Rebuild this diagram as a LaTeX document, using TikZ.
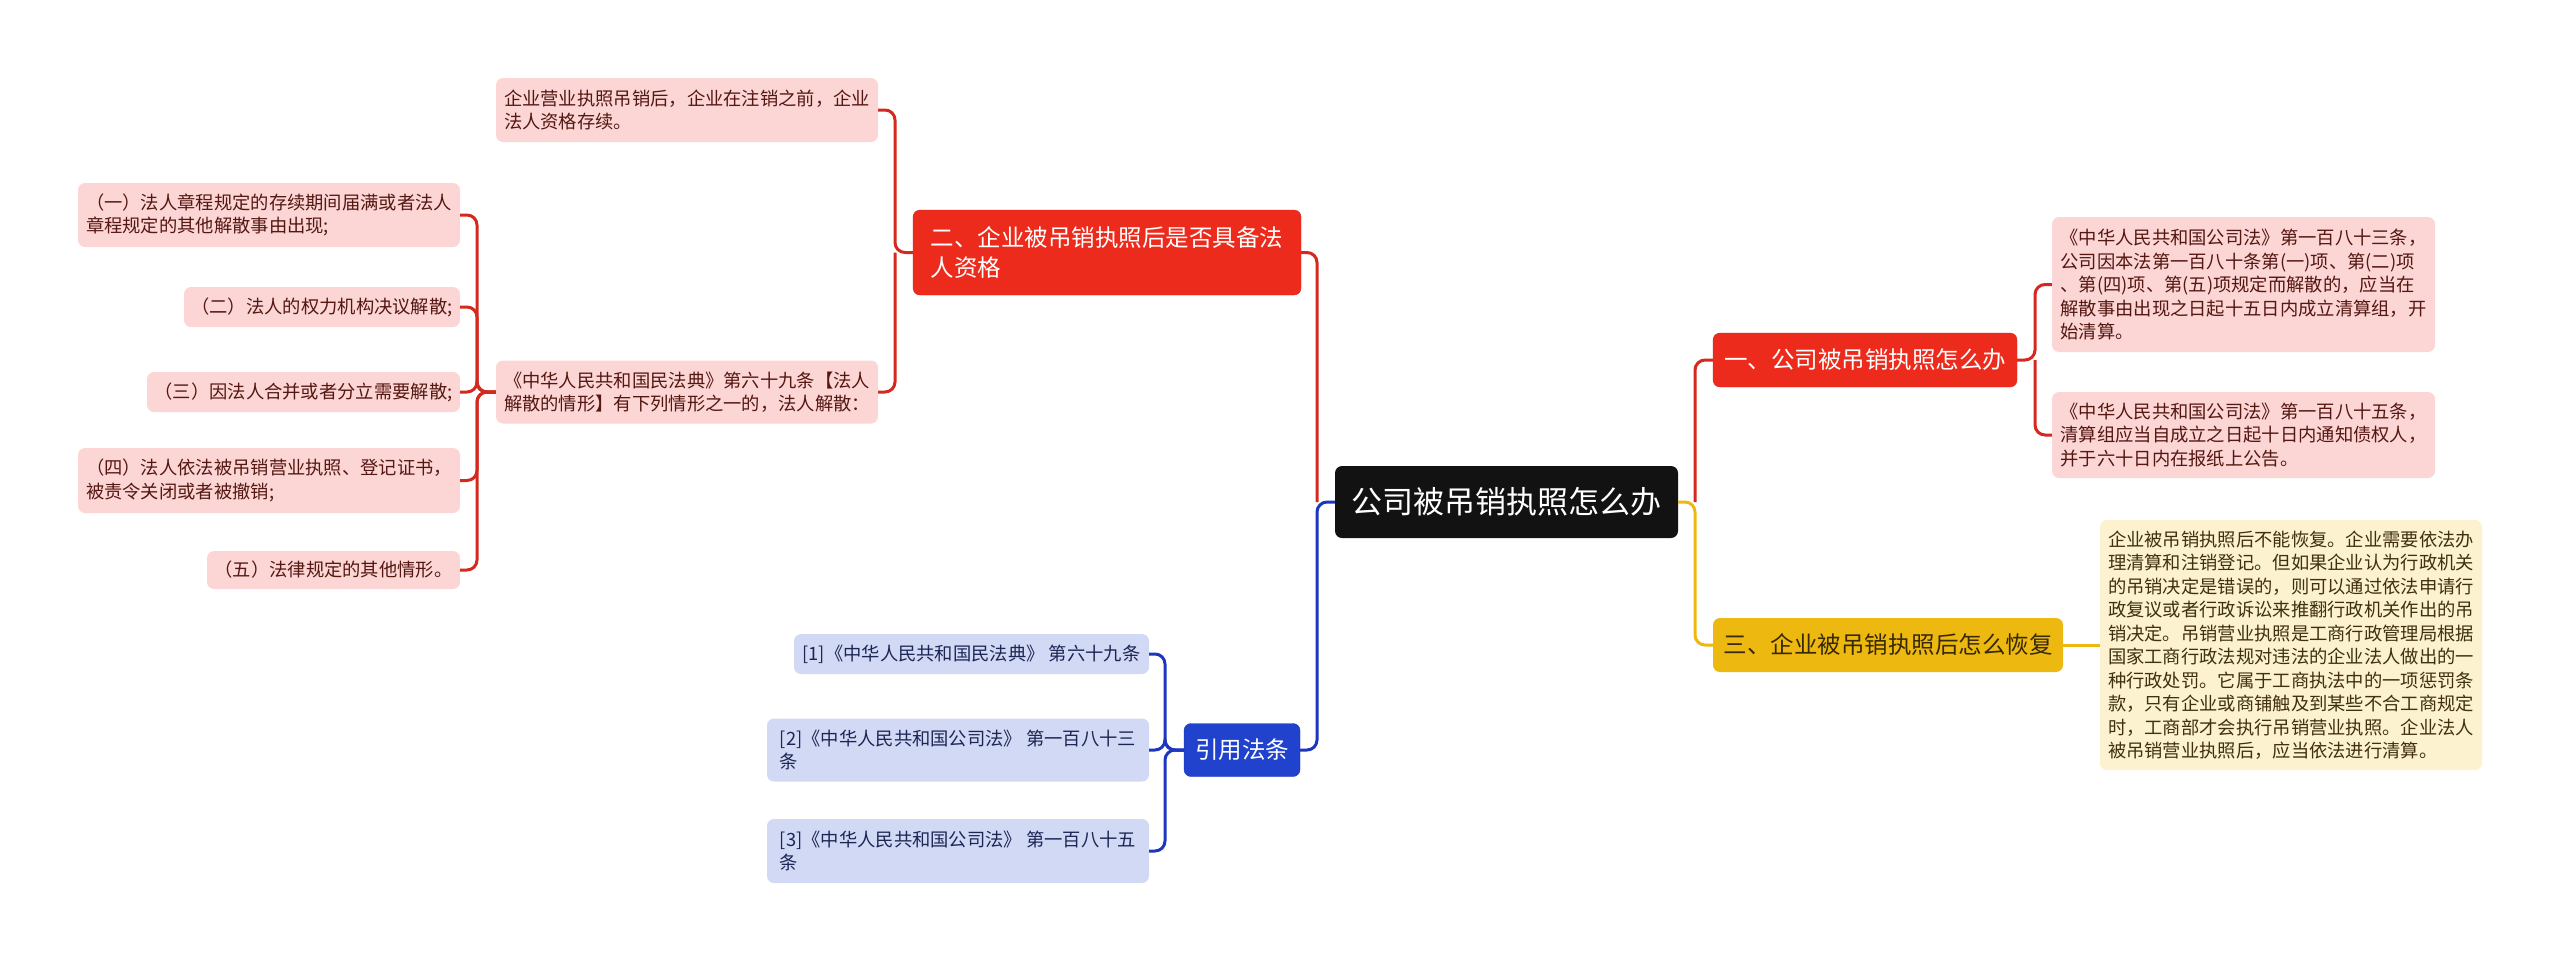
\documentclass[tikz,border=0pt]{standalone}
\usepackage{fontspec}
\setmainfont{Noto Sans CJK SC}
\definecolor{c1}{rgb}{0.07, 0.07, 0.07}
\definecolor{c2}{rgb}{0.93, 0.17, 0.11}
\definecolor{c3}{rgb}{0.93, 0.72, 0.06}
\definecolor{c4}{rgb}{0.13, 0.26, 0.80}
\definecolor{c5}{rgb}{0.99, 0.84, 0.83}
\definecolor{c6}{rgb}{0.99, 0.95, 0.81}
\definecolor{c7}{rgb}{0.82, 0.85, 0.96}
\definecolor{c8}{rgb}{0.83, 0.16, 0.12}
\definecolor{c9}{rgb}{0.11, 0.21, 0.75}
\tikzstyle{every node}=[rectangle, rounded corners=7pt, inner sep=2pt]
\tikzset{
  root/.style={fill=c1, text=white, font=\fontsize{31}{38}\selectfont, minimum width=343pt, minimum height=72pt},
  branch/.style={font=\fontsize{23.5}{30}\selectfont, align=left},
  leaf/.style={font=\fontsize{18.3}{23.5}\selectfont, align=left, inner xsep=1pt},
  leaf_r/.style={leaf, fill=c5, text={rgb,1:red,0.33;green,0.09;blue,0.07}},
  leaf_y/.style={leaf, fill=c6, text={rgb,1:red,0.25;green,0.19;blue,0.06}},
  leaf_b/.style={leaf, fill=c7, text={rgb,1:red,0.11;green,0.15;blue,0.33}},
  line_r/.style={draw=c8, line width=3pt, rounded corners=10pt},
  line_y/.style={draw=c3, line width=3pt, rounded corners=10pt},
  line_b/.style={draw=c9, line width=3pt, rounded corners=10pt},
}
\begin{document}
\begin{tikzpicture}[x=1pt, y=-1pt]
    \useasboundingbox (0,0) rectangle (2560,962);

    \node[root] (n0) at (1506.5,502) {公司被吊销执照怎么办};

    \node[branch, fill=c2, draw=c8, text=white, minimum width=304pt, minimum height=54pt] (b1) at (1865,360) {一、公司被吊销执照怎么办};
    \node[branch, fill=c2, draw=c8, text=white, minimum width=388pt, minimum height=85pt] (b2) at (1107,252.5) {二、企业被吊销执照后是否具备法\\人资格};
    \node[branch, fill=c3, text={rgb,1:red,0.22;green,0.16;blue,0.02}, minimum width=350pt, minimum height=54pt] (b3) at (1888,645) {三、企业被吊销执照后怎么恢复};
    \node[branch, fill=c4, draw=c9, text=white, minimum width=116pt, minimum height=53pt] (b4) at (1242,750) {引用法条};

    % right side
    \node[leaf_r, minimum width=383pt, minimum height=135pt] (r1) at (2243.5,284.5) {《中华人民共和国公司法》第一百八十三条，\\公司因本法第一百八十条第(一)项、第(二)项\\、第(四)项、第(五)项规定而解散的，应当在\\解散事由出现之日起十五日内成立清算组，开\\始清算。};
    \node[leaf_r, minimum width=383pt, minimum height=86pt] (r2) at (2243.5,435) {《中华人民共和国公司法》第一百八十五条，\\清算组应当自成立之日起十日内通知债权人，\\并于六十日内在报纸上公告。};
    \node[leaf_y, minimum width=382pt, minimum height=250pt] (y1) at (2291,645) {企业被吊销执照后不能恢复。企业需要依法办\\理清算和注销登记。但如果企业认为行政机关\\的吊销决定是错误的，则可以通过依法申请行\\政复议或者行政诉讼来推翻行政机关作出的吊\\销决定。吊销营业执照是工商行政管理局根据\\国家工商行政法规对违法的企业法人做出的一\\种行政处罚。它属于工商执法中的一项惩罚条\\款，只有企业或商铺触及到某些不合工商规定\\时，工商部才会执行吊销营业执照。企业法人\\被吊销营业执照后，应当依法进行清算。};

    % left side
    \node[leaf_r, minimum width=382pt, minimum height=64pt] (a1) at (687,110) {企业营业执照吊销后，企业在注销之前，企业\\法人资格存续。};
    \node[leaf_r, minimum width=382pt, minimum height=63pt] (a2) at (687,392) {《中华人民共和国民法典》第六十九条【法人\\解散的情形】有下列情形之一的，法人解散：};

    \node[leaf_r, minimum width=382pt, minimum height=64pt] (s1) at (269,215) {（一）法人章程规定的存续期间届满或者法人\\章程规定的其他解散事由出现;};
    \node[leaf_r, minimum width=276pt, minimum height=40pt] (s2) at (322,307) {（二）法人的权力机构决议解散;};
    \node[leaf_r, minimum width=313pt, minimum height=40pt] (s3) at (303.5,392) {（三）因法人合并或者分立需要解散;};
    \node[leaf_r, minimum width=382pt, minimum height=65pt] (s4) at (269,480.5) {（四）法人依法被吊销营业执照、登记证书，\\被责令关闭或者被撤销;};
    \node[leaf_r, minimum width=253pt, minimum height=38pt] (s5) at (333.5,570) {（五）法律规定的其他情形。};

    \node[leaf_b, minimum width=355pt, minimum height=40pt] (c1) at (971.5,654) {[1]《中华人民共和国民法典》 第六十九条};
    \node[leaf_b, minimum width=382pt, minimum height=63pt] (c2) at (958,750) {[2]《中华人民共和国公司法》 第一百八十三\\条};
    \node[leaf_b, minimum width=382pt, minimum height=64pt] (c3) at (958,851) {[3]《中华人民共和国公司法》 第一百八十五\\条};

    \coordinate (jl) at (1317,502);
    \coordinate (jr) at (1695,502);
    \coordinate (t1) at (2035,360);
    \coordinate (t2) at (895,252.5);
    \coordinate (t3) at (477,392);
    \coordinate (t4) at (1165,750);

    \draw[line_y] (n0.east) -- (jr) |- (b3.west);
    \draw[line_r] (jr) |- (b1.west);
    \draw[line_b] (n0.west) -- (jl) |- (b4.east);
    \draw[line_r] (jl) |- (b2.east);

    \draw[line_r] (b1.east) -- (t1) |- (r1.west);
    \draw[line_r] (t1) |- (r2.west);
    \draw[line_y] (b3.east) -- (y1.west);

    \draw[line_r] (b2.west) -- (t2) |- (a1.east);
    \draw[line_r] (t2) |- (a2.east);
    \foreach \i in {1,...,5}
        \draw[line_r] (a2.west) -- (t3) |- (s\i.east);
    \foreach \i in {1,2,3}
        \draw[line_b] (b4.west) -- (t4) |- (c\i.east);

\end{tikzpicture}
\end{document}
